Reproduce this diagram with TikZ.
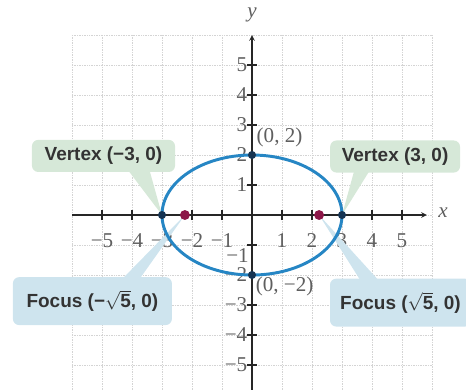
\documentclass[tikz,border=0pt]{standalone}
\usepackage{fontspec}
\setmainfont{Liberation Serif}
\newfontfamily\calloutfont{Liberation Sans}
\usetikzlibrary{arrows, calc, positioning}
\definecolor{gridcolor}{RGB}{212,212,212}
\definecolor{ellipsecolor}{RGB}{38,134,196}
\definecolor{vertexcolor}{RGB}{22,52,82}
\definecolor{focuscolor}{RGB}{140,22,72}
\definecolor{vertexfill}{RGB}{214,232,216}
\definecolor{focusfill}{RGB}{206,228,238}
\definecolor{labelgray}{RGB}{95,95,95}

\begin{document}
\begin{tikzpicture}[
    vertexbox/.style={rectangle, rounded corners=6pt, fill=vertexfill, minimum height=1.07cm, text=black!80, font=\calloutfont\bfseries\fontsize{18}{20}\selectfont},
    focusbox/.style={rectangle, rounded corners=6pt, fill=focusfill, minimum height=1.6cm, text=black!80, font=\calloutfont\bfseries\fontsize{18}{20}\selectfont},
    vdot/.style={circle, fill=vertexcolor, inner sep=0pt, minimum size=0.27cm},
    fdot/.style={circle, fill=focuscolor, inner sep=0pt, minimum size=0.33cm},
    axis/.style={-stealth, line width=1.4pt, black!85},
    ticklabel/.style={inner sep=0pt, text=labelgray, font=\fontsize{20}{22}\selectfont},
    pointlabel/.style={inner sep=0pt, text=labelgray, font=\fontsize{20}{22}\selectfont, anchor=west}
]
    \useasboundingbox (-8.4,-5.8) rectangle (7.133,7.167);

    % Grid
    \draw[gridcolor, densely dotted, line width=0.6pt] (-6,-6) grid (6,6);

    % Points
    \coordinate (vl) at (-3,0);
    \coordinate (vr) at (3,0);
    \coordinate (vt) at (0,2);
    \coordinate (vb) at (0,-2);
    \coordinate (fl) at (-2.236,0);
    \coordinate (fr) at (2.236,0);

    % Axes
    \coordinate (xmin) at (-6,0);
    \coordinate (xmax) at (5.83,0);
    \coordinate (ymin) at (0,-6);
    \coordinate (ymax) at (0,6);
    \draw[axis] (xmin) -- (xmax);
    \draw[axis] (ymin) -- (ymax);
    \node[font=\itshape\fontsize{20}{22}\selectfont, text=labelgray] (xlab) at (6.37,0.07) {x};
    \node[font=\itshape\fontsize{20}{22}\selectfont, text=labelgray] (ylab) at (0,6.67) {y};

    % Ticks
    \foreach \t/\s in {-5/−5,-4/−4,-3/−3,-2/−2,-1/−1,1/1,2/2,3/3,4/4,5/5} {
        \draw[line width=1.2pt, black!85] (\t,-0.17) -- (\t,0.17);
        \draw[line width=1.2pt, black!85] (-0.17,\t) -- (0.17,\t);
        \node[ticklabel, anchor=north] (xt\t) at (\t,-0.6) {\s};
    }
    \foreach \t/\s in {-5/−5,-4/−4,-3/−3,-2/−2,1/1,2/2,3/3,4/4,5/5}
        \node[ticklabel, anchor=east] (yt\t) at (-0.15,\t) {\s};
    \node[ticklabel, anchor=north east] (yt-1) at (-0.1,-1.1) {−1};

    % Callouts
    \node[vertexbox, minimum width=4.77cm] (vlbox) at (-4.95,1.97) {Vertex (−3, 0)};
    \node[vertexbox, minimum width=4.33cm] (vrbox) at (4.77,1.95) {Vertex (3, 0)};
    \node[focusbox, minimum width=5.3cm] (flbox) at (-5.32,-2.87) {Focus (−\ensuremath{\sqrt{\mbox{5}}}, 0)};
    \node[focusbox, minimum width=4.7cm] (frbox) at (4.95,-2.92) {Focus (\ensuremath{\sqrt{\mbox{5}}}, 0)};

    \fill[vertexfill] ([xshift=-1.55cm, yshift=1pt]vlbox.south east) -- ([xshift=-0.85cm, yshift=1pt]vlbox.south east) -- (vl) -- cycle;
    \fill[vertexfill] ([xshift=0.8cm, yshift=1pt]vrbox.south west) -- ([xshift=1.3cm, yshift=1pt]vrbox.south west) -- (vr) -- cycle;
    \fill[focusfill] ([xshift=-1.63cm, yshift=-1pt]flbox.north east) -- ([xshift=-1.06cm, yshift=-1pt]flbox.north east) -- (fl) -- cycle;
    \fill[focusfill] ([xshift=1.0cm, yshift=-1pt]frbox.north west) -- ([xshift=1.6cm, yshift=-1pt]frbox.north west) -- (fr) -- cycle;

    % Ellipse
    \draw[ellipsecolor, line width=2.8pt] (0,0) ellipse (3 and 2);

    % Vertices and foci
    \node[vdot] (vldot) at (vl) {};
    \node[vdot] (vrdot) at (vr) {};
    \node[vdot] (vtdot) at (vt) {};
    \node[vdot] (vbdot) at (vb) {};
    \node[fdot] (fldot) at (fl) {};
    \node[fdot] (frdot) at (fr) {};

    \node[pointlabel] (vtlab) at (0.15,2.6) {(0, 2)};
    \node[pointlabel] (vblab) at (0.12,-2.38) {(0, −2)};

\end{tikzpicture}
\end{document}
